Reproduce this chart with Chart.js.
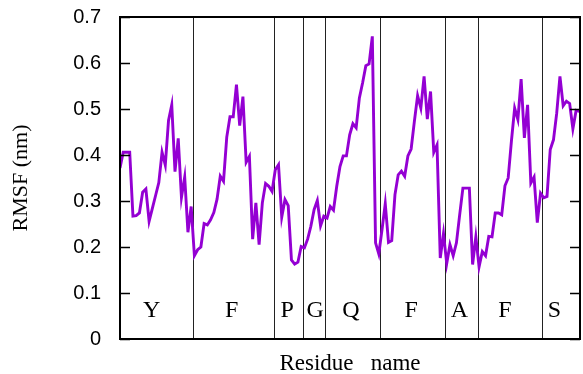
<!DOCTYPE html>
<html>
<head>
<meta charset="utf-8">
<script src="https://cdn.jsdelivr.net/npm/chart.js@4.4.1/dist/chart.umd.min.js"></script>
<style>
  body { margin: 0; background: #fff; }
  #wrap { width: 583px; height: 374px; }
</style>
</head>
<body>
<div id="wrap"><canvas id="rmsfChart"></canvas></div>
<script>
// RMSF por átomo (nm), índice 0..142
const rmsfValues = [
  0.372, 0.406, 0.406, 0.406, 0.267, 0.268, 0.274, 0.319, 0.326, 0.256,
  0.284, 0.312, 0.340, 0.406, 0.378, 0.475, 0.509, 0.364, 0.436, 0.308,
  0.352, 0.232, 0.288, 0.181, 0.194, 0.200, 0.251, 0.248, 0.259, 0.275,
  0.304, 0.354, 0.343, 0.439, 0.483, 0.483, 0.553, 0.464, 0.527, 0.384,
  0.397, 0.217, 0.296, 0.205, 0.296, 0.338, 0.332, 0.321, 0.368, 0.379,
  0.265, 0.303, 0.290, 0.172, 0.163, 0.167, 0.201, 0.198, 0.217, 0.245,
  0.281, 0.301, 0.246, 0.267, 0.263, 0.288, 0.280, 0.332, 0.375, 0.398,
  0.398, 0.444, 0.468, 0.459, 0.524, 0.557, 0.594, 0.598, 0.658, 0.209,
  0.185, 0.238, 0.294, 0.210, 0.214, 0.314, 0.357, 0.365, 0.354, 0.398,
  0.413, 0.473, 0.529, 0.502, 0.571, 0.478, 0.538, 0.406, 0.422, 0.176,
  0.229, 0.164, 0.205, 0.181, 0.209, 0.270, 0.328, 0.328, 0.328, 0.162,
  0.222, 0.157, 0.190, 0.181, 0.223, 0.222, 0.274, 0.274, 0.270, 0.333,
  0.350, 0.430, 0.502, 0.477, 0.565, 0.437, 0.509, 0.339, 0.352, 0.253,
  0.317, 0.307, 0.310, 0.412, 0.433, 0.491, 0.571, 0.507, 0.517, 0.512,
  0.457, 0.497, 0.495
];

// Residuos, límites entre residuos y centro de cada etiqueta (en índice de átomo)
const residues = ['Y', 'F', 'P', 'G', 'Q', 'F', 'A', 'F', 'S'];
const residueBounds = [22.6, 47.5, 56.6, 63.5, 80.5, 100.6, 110.7, 130.6];
const residueCenters = [9.8, 34.5, 51.7, 60.3, 71.4, 90.0, 104.9, 119.0, 134.3];

const yTicks = [0, 0.1, 0.2, 0.3, 0.4, 0.5, 0.6, 0.7];
const X_MAX = 142.2;
const LABEL_LEVEL = 0.048;

const points = rmsfValues.map((v, i) => ({ x: i, y: v }));

// Separadores, etiquetas, marco y marcas hacia dentro
const residuePlugin = {
  id: 'residuePlugin',
  beforeDatasetsDraw(chart) {
    const { ctx, chartArea, scales: { x, y } } = chart;
    ctx.save();
    ctx.strokeStyle = '#222';
    ctx.lineWidth = 1;
    residueBounds.forEach(b => {
      const px = Math.round(x.getPixelForValue(b)) + 0.5;
      ctx.beginPath();
      ctx.moveTo(px, chartArea.top);
      ctx.lineTo(px, chartArea.bottom);
      ctx.stroke();
    });
    ctx.fillStyle = '#000';
    ctx.font = '24px "Liberation Serif", "DejaVu Serif", serif';
    ctx.textAlign = 'center';
    ctx.textBaseline = 'alphabetic';
    const ly = y.getPixelForValue(LABEL_LEVEL);
    residues.forEach((r, i) => {
      ctx.fillText(r, x.getPixelForValue(residueCenters[i]), ly);
    });
    ctx.restore();
  },
  afterDraw(chart) {
    const { ctx, chartArea, scales: { y } } = chart;
    ctx.save();
    ctx.strokeStyle = '#000';
    ctx.lineWidth = 1.5;
    yTicks.forEach(t => {
      const py = Math.round(y.getPixelForValue(t)) + 0.5;
      ctx.beginPath();
      ctx.moveTo(chartArea.left, py);
      ctx.lineTo(chartArea.left + 10, py);
      ctx.moveTo(chartArea.right, py);
      ctx.lineTo(chartArea.right - 10, py);
      ctx.stroke();
    });
    ctx.lineWidth = 2;
    ctx.strokeRect(chartArea.left, chartArea.top, chartArea.right - chartArea.left, chartArea.bottom - chartArea.top);
    ctx.restore();
  }
};

const ctx = document.getElementById('rmsfChart').getContext('2d');
new Chart(ctx, {
  type: 'line',
  data: {
    datasets: [{
      data: points,
      borderColor: '#9400d3',
      borderWidth: 2.9,
      pointRadius: 0,
      tension: 0,
      fill: false
    }]
  },
  options: {
    responsive: true,
    maintainAspectRatio: false,
    animation: false,
    layout: { padding: { top: 17, right: 3, left: 0, bottom: 0 } },
    plugins: {
      legend: { display: false },
      tooltip: { enabled: false }
    },
    scales: {
      x: {
        type: 'linear',
        min: 0,
        max: X_MAX,
        grid: { display: false, drawTicks: false },
        border: { display: false },
        ticks: { display: false },
        title: {
          display: true,
          text: 'Residue   name',
          color: '#000',
          font: { family: '"Liberation Serif", "DejaVu Serif", serif', size: 23, lineHeight: 0.87 },
          padding: 0
        },
        afterFit(scale) { scale.height = 35; scale.paddingLeft = 0; scale.paddingRight = 0; }
      },
      y: {
        min: 0,
        max: 0.7,
        grid: { display: false, drawTicks: false },
        border: { display: false },
        afterBuildTicks(scale) { scale.ticks = yTicks.map(v => ({ value: v })); },
        ticks: {
          color: '#000',
          padding: 19,
          font: { family: '"Liberation Sans", Arial, sans-serif', size: 20 },
          callback: v => String(Math.round(v * 10) / 10)
        },
        title: {
          display: true,
          text: 'RMSF (nm)',
          color: '#000',
          font: { family: '"Liberation Serif", "DejaVu Serif", serif', size: 22 },
          padding: { top: 8, bottom: 0 }
        },
        afterFit(scale) { scale.width = 120; scale.paddingTop = 0; scale.paddingBottom = 0; }
      }
    }
  },
  plugins: [residuePlugin]
});
</script>
</body>
</html>
